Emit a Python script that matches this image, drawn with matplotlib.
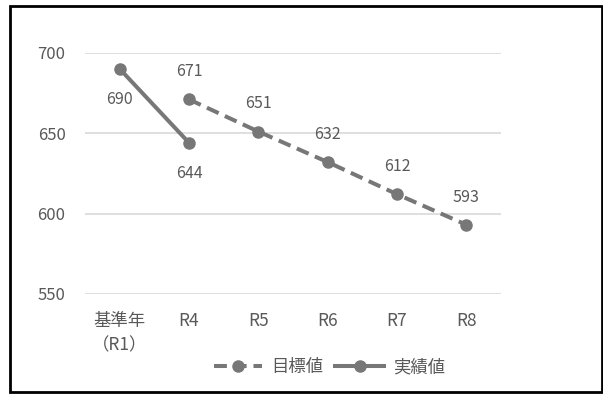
import matplotlib.pyplot as plt
from matplotlib.patches import Rectangle

plt.rcParams['font.family'] = ['Noto Sans CJK JP', 'DejaVu Sans']

# ── data ──
categories = ["基準年\n（R1）", "R4", "R5", "R6", "R7", "R8"]
target_x = [1, 2, 3, 4, 5]
target_vals = [671, 651, 632, 612, 593]
actual_x = [0, 1]
actual_vals = [690, 644]
yticks = [550, 600, 650, 700]

line_c = "#777777"
text_c = "#595959"

fig = plt.figure(figsize=(6.03, 3.94), dpi=100)
ax = fig.add_axes([0.141, 0.254, 0.690, 0.612])

ax.plot(target_x, target_vals, color=line_c, lw=2.9, ls=(0, (3.2, 1.7)),
        marker="o", ms=8, label="目標値", zorder=3)
ax.plot(actual_x, actual_vals, color=line_c, lw=2.9, ls="-",
        marker="o", ms=8, label="実績値", zorder=3)

for x, v in zip(target_x, target_vals):
    ax.annotate(str(v), (x, v), xytext=(0, 20), textcoords="offset points",
                ha="center", va="center", fontsize=11.5, color=text_c)
for x, v in zip(actual_x, actual_vals):
    ax.annotate(str(v), (x, v), xytext=(0, -22), textcoords="offset points",
                ha="center", va="center", fontsize=11.5, color=text_c)

ax.set_xlim(-0.5, 5.5)
ax.set_ylim(550, 700)
ax.set_yticks(yticks)
ax.set_xticks(range(len(categories)))
ax.set_xticklabels(categories, fontsize=12.5, color=text_c, linespacing=1.45, va="top")
ax.tick_params(axis="y", labelsize=12, labelcolor=text_c, length=0, pad=14)
ax.tick_params(axis="x", length=0, pad=13)
ax.grid(axis="y", color="#d9d9d9", lw=1.2)
ax.set_axisbelow(True)
for s in ax.spines.values():
    s.set_visible(False)

leg = fig.legend(loc="center", bbox_to_anchor=(0.546, 0.068), ncol=2, frameon=False,
                 fontsize=12.5, handlelength=2.8, columnspacing=0.7, handletextpad=0.5)
for t in leg.get_texts():
    t.set_color(text_c)

fig.patches.append(Rectangle((0.016, 0.006), 0.982, 0.98, transform=fig.transFigure,
                             fill=False, edgecolor="black", lw=2))

fig.savefig("out.png", dpi=100)
